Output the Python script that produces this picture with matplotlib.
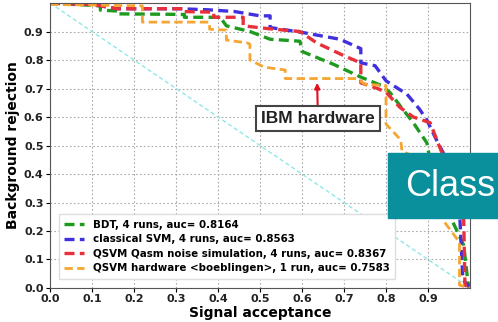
import numpy as np
import matplotlib.pyplot as plt
from matplotlib.patches import Rectangle

# ROC curves (signal acceptance, background rejection)
bdt_x = [0, 0.12, 0.12, 0.16, 0.16, 0.32, 0.32, 0.405, 0.42, 0.476, 0.524, 0.595, 0.6,
         0.675, 0.74, 0.79, 0.81, 0.84, 0.865, 0.897, 0.905, 0.92, 0.95, 0.985, 0.995, 1.0]
bdt_y = [1.0, 0.99, 0.975, 0.972, 0.962, 0.96, 0.95, 0.95, 0.92, 0.9, 0.873, 0.866, 0.83,
         0.785, 0.74, 0.71, 0.685, 0.627, 0.58, 0.51, 0.45, 0.36, 0.26, 0.15, 0.02, 0.0]

svm_x = [0, 0.1, 0.16, 0.31, 0.38, 0.44, 0.5, 0.524, 0.524, 0.6, 0.69, 0.74, 0.74,
         0.774, 0.8, 0.85, 0.88, 0.897, 0.92, 0.936, 0.96, 0.976, 0.983, 1.0]
svm_y = [1.0, 0.995, 0.98, 0.98, 0.976, 0.97, 0.955, 0.955, 0.914, 0.897, 0.873, 0.84, 0.79,
         0.78, 0.727, 0.68, 0.627, 0.59, 0.52, 0.475, 0.36, 0.24, 0.03, 0.0]

qasm_x = [0, 0.1, 0.16, 0.32, 0.32, 0.39, 0.39, 0.46, 0.46, 0.52, 0.595, 0.635, 0.7, 0.74,
          0.74, 0.78, 0.8, 0.833, 0.865, 0.905, 0.93, 0.94, 0.97, 0.985, 0.988, 1.0]
qasm_y = [1.0, 0.995, 0.98, 0.98, 0.97, 0.968, 0.95, 0.95, 0.92, 0.91, 0.9, 0.86, 0.815, 0.79,
          0.72, 0.70, 0.687, 0.634, 0.60, 0.58, 0.486, 0.45, 0.33, 0.24, 0.01, 0.0]

hw_x = [0, 0.22, 0.22, 0.38, 0.38, 0.42, 0.42, 0.47, 0.476, 0.476, 0.51, 0.56, 0.56, 0.73,
        0.75, 0.80, 0.80, 0.835, 0.838, 0.9, 0.935, 0.935, 0.975, 0.975, 1.0]
hw_y = [0.995, 0.99, 0.933, 0.933, 0.908, 0.905, 0.87, 0.86, 0.855, 0.80, 0.775, 0.765, 0.735,
        0.735, 0.715, 0.71, 0.575, 0.52, 0.48, 0.44, 0.35, 0.24, 0.16, 0.01, 0.0]

labels = ['BDT, 4 runs, auc= 0.8164',
          'classical SVM, 4 runs, auc= 0.8563',
          'QSVM Qasm noise simulation, 4 runs, auc= 0.8367',
          'QSVM hardware <boeblingen>, 1 run, auc= 0.7583']
ticks = [0.0, 0.1, 0.2, 0.3, 0.4, 0.5, 0.6, 0.7, 0.8, 0.9]

fig = plt.figure(figsize=(4.98, 3.22), dpi=100)
ax = fig.add_axes([0.1004, 0.1056, 0.8434, 0.885])

# random-guess diagonal
ax.plot([0, 1], [1, 0], color='#8ee8e8', lw=1.0, ls=(0, (3, 2)))

dash = (0, (3.0, 1.6))
ax.plot(bdt_x, bdt_y, color='#1e9a1e', lw=2.4, ls=dash, label=labels[0])
ax.plot(svm_x, svm_y, color='#4030dd', lw=2.4, ls=dash, label=labels[1])
ax.plot(qasm_x, qasm_y, color='#e8303a', lw=2.4, ls=dash, label=labels[2])
ax.plot(hw_x, hw_y, color='#f5a531', lw=2.0, ls=dash, label=labels[3])

ax.set_xlim(0, 1)
ax.set_ylim(0, 1)
ax.set_xticks(ticks)
ax.set_yticks(ticks)
ax.set_xticklabels(['%.1f' % t for t in ticks], fontsize=8, fontweight='bold', color='#222222')
ax.set_yticklabels(['%.1f' % t for t in ticks], fontsize=8, fontweight='bold', color='#222222')
ax.tick_params(length=3, pad=1.5)
ax.grid(True, ls=(0, (1.5, 2)), color='#aaaaaa', lw=0.8)
for s in ax.spines.values():
    s.set_color('#555555')
ax.set_xlabel('Signal acceptance', fontsize=10, fontweight='bold', labelpad=1)
ax.set_ylabel('Background rejection', fontsize=10, fontweight='bold', labelpad=3)

leg = ax.legend(loc='lower left', bbox_to_anchor=(0.01, 0.015), prop={'size': 7.4, 'weight': 'bold'},
                handlelength=1.9, handletextpad=0.9, labelspacing=0.45, borderpad=0.5,
                framealpha=1, fancybox=False)
leg.get_frame().set_edgecolor('#dddddd')

# IBM hardware callout
ax.annotate('IBM hardware', xy=(0.636, 0.72), xytext=(0.638, 0.595),
            fontsize=12.5, fontweight='bold', family='Liberation Sans', color='#222222',
            ha='center', va='center',
            bbox=dict(boxstyle='square,pad=0.3', fc='white', ec='#444444', lw=1.5),
            arrowprops=dict(arrowstyle='-|>', color='#e01020', lw=1.5, mutation_scale=8,
                            shrinkA=0, shrinkB=0))

# slide overlay box
fig.patches.append(Rectangle((388 / 498, 1 - 218 / 322), 110 / 498, 65 / 322,
                             transform=fig.transFigure, color='#0a8f9c', zorder=10))
fig.text(405 / 498, 1 - 186 / 322, 'Class', fontsize=26, color='white',
         family='Liberation Sans', va='center', ha='left', zorder=11)

fig.savefig('out.png', dpi=100)
